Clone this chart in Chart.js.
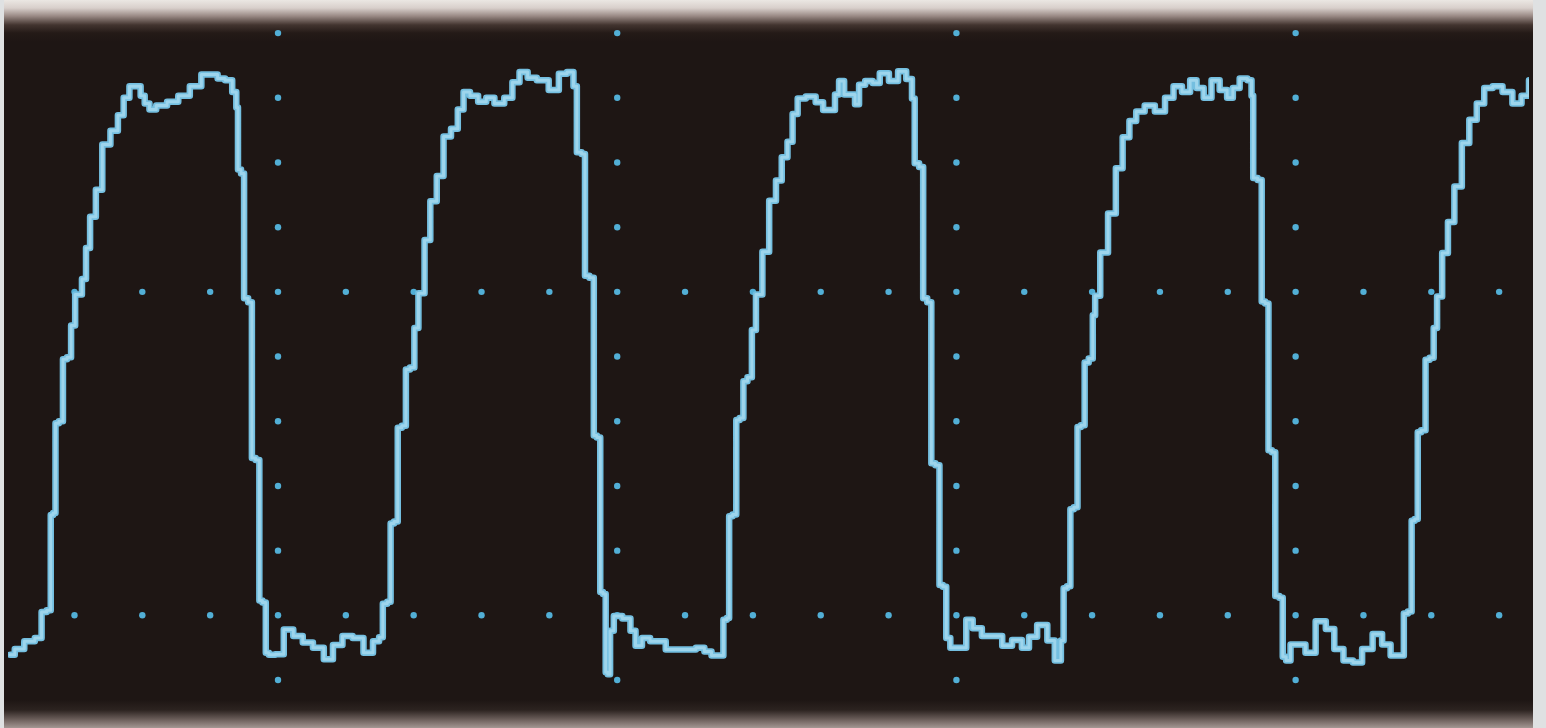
<!DOCTYPE html>
<html>
<head>
<meta charset="utf-8">
<title>Scope trace</title>
<script src="https://cdn.jsdelivr.net/npm/chart.js@4.4.1/dist/chart.umd.min.js"></script>
<style>
    html, body {
        margin: 0;
        padding: 0;
        width: 1546px;
        height: 728px;
        overflow: hidden;
        background: #dfe1e2;
    }
    #screen {
        position: absolute;
        left: 4px;
        top: 0;
        width: 1529px;
        height: 728px;
        background: linear-gradient(to bottom,
            #ebe7e3 0px, #d8cfcb 8px, #9a8a85 16px, #42342f 25px, #241a17 33px, #1e1614 42px,
            #1e1614 700px, #2c2320 710px, #6f625e 720px, #a39793 728px);
    }
    #scope {
        position: absolute;
        left: 0;
        top: 0;
    }
</style>
</head>
<body>
<div id="screen">
    <canvas id="scope" width="1529" height="728"></canvas>
</div>
<script>
// Trace samples, x in horizontal divisions, y in vertical divisions (0 = centre line)
const traceX = [
    -3.95, -3.81, -3.67, -3.50, -3.47, -3.35, -3.35, -3.28, -3.28, -3.18, -3.16, -3.06, -3.04, -2.94, -2.84,
    -2.82, -2.72, -2.65, -2.53, -2.41, -2.31, -2.24, -2.14, -2.05, -2.00, -1.93, -1.86, -1.73, -1.54, -1.40,
    -1.20, -1.06, -0.94, -0.84, -0.72, -0.63, -0.60, -0.58, -0.51, -0.49, -0.39, -0.38, -0.28, -0.27, -0.19,
    -0.17, -0.10, 0.02, 0.15, 0.30, 0.43, 0.60, 0.75, 0.87, 1.03, 1.17, 1.35, 1.45, 1.53,
    1.56, 1.66, 1.66, 1.76, 1.77, 1.88, 1.89, 2.00, 2.02, 2.12, 2.20, 2.29, 2.39, 2.49, 2.61,
    2.69, 2.78, 2.88, 3.02, 3.12, 3.26, 3.41, 3.50, 3.62, 3.74, 3.89, 4.09, 4.19, 4.33, 4.38,
    4.43, 4.52, 4.53, 4.65, 4.66, 4.74, 4.76, 4.82, 4.84, 4.88, 4.91, 4.99, 5.16, 5.23, 5.31,
    5.42, 5.55, 5.64, 5.79, 6.08, 6.24, 6.33, 6.45, 6.55,
    6.58, 6.65, 6.65, 6.75, 6.76, 6.85, 6.87, 6.97, 7.00, 7.09, 7.19, 7.29, 7.39, 7.46, 7.56,
    7.61, 7.71, 7.85, 8.00, 8.07, 8.20, 8.22, 8.32, 8.37, 8.47, 8.54, 8.59, 8.72, 8.81, 8.93,
    9.08, 9.20, 9.32, 9.37, 9.40, 9.50, 9.52, 9.62, 9.64, 9.74, 9.76, 9.84, 9.86, 9.96, 10.11,
    10.18, 10.30, 10.45, 10.60, 10.75, 10.89, 11.04, 11.10, 11.28, 11.40, 11.50, 11.58,
    11.58, 11.68, 11.68, 11.78, 11.79, 11.88, 11.90, 12.00, 12.02, 12.07, 12.17, 12.30, 12.40, 12.50, 12.60,
    12.70, 12.85, 13.00, 13.15, 13.25, 13.40, 13.49, 13.59, 13.70, 13.82, 13.94, 14.04, 14.11, 14.24, 14.34,
    14.36, 14.39, 14.49, 14.51, 14.59, 14.61, 14.69, 14.71, 14.81, 14.81, 14.91, 14.94, 15.08, 15.21, 15.38,
    15.51, 15.63, 15.78, 15.91, 16.05, 16.22, 16.33, 16.47, 16.59,
    16.60, 16.71, 16.71, 16.80, 16.80, 16.90, 16.93, 17.02, 17.05, 17.12, 17.20, 17.29, 17.39, 17.51, 17.61,
    17.73, 17.83, 17.98, 18.12, 18.27, 18.39, 18.49
];
const traceY = [
    -5.61, -5.52, -5.40, -5.35, -4.95, -4.92, -3.45, -3.42, -2.03, -2.00, -1.04, -1.01, -0.52, -0.04, 0.20,
    0.68, 1.16, 1.58, 2.28, 2.49, 2.73, 3.00, 3.18, 3.18, 3.03, 2.91, 2.82, 2.88, 2.94, 3.03,
    3.18, 3.36, 3.36, 3.30, 3.27, 3.09, 2.85, 1.89, 1.83, -0.10, -0.16, -2.57, -2.60, -4.77, -4.80,
    -5.58, -5.61, -5.60, -5.22, -5.32, -5.42, -5.50, -5.68, -5.46, -5.32, -5.35, -5.58, -5.40, -5.34,
    -4.82, -4.79, -3.58, -3.55, -2.10, -2.07, -1.20, -1.17, -0.56, -0.02, 0.80, 1.40, 1.79, 2.40, 2.52,
    2.82, 3.09, 3.03, 2.94, 3.00, 2.91, 3.00, 3.24, 3.40, 3.31, 3.27, 3.12, 3.37, 3.40, 3.18,
    2.16, 2.13, 0.25, 0.22, -2.22, -2.25, -4.64, -4.67, -5.88, -5.91, -5.24, -5.01, -5.05, -5.24, -5.47,
    -5.35, -5.40, -5.40, -5.53, -5.53, -5.50, -5.56, -5.62, -5.62,
    -5.07, -5.04, -3.47, -3.44, -1.98, -1.95, -1.38, -1.32, -0.59, -0.04, 0.62, 1.41, 1.72, 2.08, 2.32,
    2.75, 2.99, 3.02, 2.93, 2.81, 2.81, 3.05, 3.26, 3.05, 3.05, 2.90, 3.20, 3.26, 3.23, 3.38,
    3.26, 3.41, 3.29, 2.99, 1.99, 1.93, -0.10, -0.16, -2.65, -2.68, -4.53, -4.56, -5.35, -5.50, -5.50,
    -5.07, -5.20, -5.32, -5.32, -5.47, -5.38, -5.50, -5.33, -5.15, -5.39, -5.70, -5.39,
    -4.58, -4.55, -3.36, -3.33, -2.09, -2.06, -1.09, -1.03, -0.36, -0.06, 0.61, 1.21, 1.91, 2.39, 2.64,
    2.79, 2.88, 2.79, 3.00, 3.18, 3.09, 3.27, 3.15, 3.00, 3.27, 3.12, 3.00, 3.15, 3.30, 3.27,
    3.03, 1.76, 1.73, -0.15, -0.18, -2.45, -2.48, -4.70, -4.73, -5.64, -5.70, -5.45, -5.45, -5.58, -5.09,
    -5.21, -5.52, -5.70, -5.73, -5.52, -5.29, -5.45, -5.62, -5.62,
    -4.97, -4.94, -3.54, -3.51, -2.17, -2.14, -1.05, -1.02, -0.56, -0.07, 0.60, 1.08, 1.63, 2.30, 2.66,
    2.91, 3.15, 3.18, 3.09, 2.91, 3.03, 3.27
];

// Graticule: dotted major verticals and two dotted horizontals
const majorX = [0, 5, 10, 15];
const minorX = [-3, -2, -1, 0, 1, 2, 3, 4, 5, 6, 7, 8, 9, 10, 11, 12, 13, 14, 15, 16, 17, 18];
const minorY = [4, 3, 2, 1, 0, -1, -2, -3, -4, -5, -6];
const dottedY = [0, -5];

const xRange = [-3.98, 18.44];
const yRange = [-6.68, 4.45];

function buildTrace() {
    return traceX.map((x, i) => ({ x: x, y: traceY[i] }));
}

function buildGraticule() {
    const dots = [];
    majorX.forEach(x => minorY.forEach(y => dots.push({ x: x, y: y })));
    dottedY.forEach(y => minorX.forEach(x => {
        if (!majorX.includes(x)) dots.push({ x: x, y: y });
    }));
    return dots;
}

const ctx = document.getElementById('scope').getContext('2d');
window.scopeChart = new Chart(ctx, {
    type: 'line',
    data: {
        datasets: [{
            // bright core of the trace
            data: buildTrace(),
            borderColor: '#9ed5ec',
            borderWidth: 3,
            pointRadius: 0,
            stepped: 'middle',
            borderJoinStyle: 'round',
            borderCapStyle: 'round',
            order: 1
        }, {
            // glow around the trace
            data: buildTrace(),
            borderColor: '#74bfe0',
            borderWidth: 6.5,
            pointRadius: 0,
            stepped: 'middle',
            borderJoinStyle: 'round',
            borderCapStyle: 'round',
            order: 2
        }, {
            type: 'scatter',
            data: buildGraticule(),
            showLine: false,
            pointRadius: 3.2,
            pointBackgroundColor: '#52afd6',
            pointBorderWidth: 0,
            order: 3
        }]
    },
    options: {
        responsive: false,
        animation: false,
        layout: { padding: 0 },
        plugins: {
            legend: { display: false },
            tooltip: { enabled: false }
        },
        scales: {
            x: {
                type: 'linear',
                min: xRange[0],
                max: xRange[1],
                display: false
            },
            y: {
                type: 'linear',
                min: yRange[0],
                max: yRange[1],
                display: false
            }
        }
    }
});
</script>
</body>
</html>
